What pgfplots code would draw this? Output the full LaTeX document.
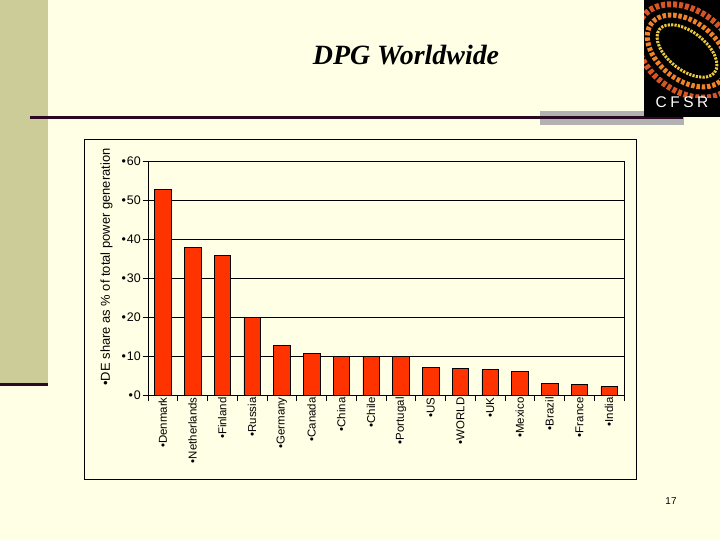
\documentclass[border=0pt]{standalone}
\usepackage{fontspec}
\setmainfont{Liberation Sans}
\newfontfamily\titlefont{Liberation Serif}
\usepackage{pgfplots}
\pgfplotsset{compat=1.18}

\definecolor{slidebg}{RGB}{255,255,229}
\definecolor{strip}{RGB}{204,204,153}
\definecolor{rulecol}{RGB}{45,8,35}
\definecolor{barcol}{RGB}{255,51,0}
\definecolor{grayband}{RGB}{178,178,178}
\definecolor{logoyel}{RGB}{235,200,60}
\definecolor{logoora}{RGB}{240,130,40}
\definecolor{logored}{RGB}{215,85,35}

\begin{document}
\begin{tikzpicture}
% slide background
\fill[slidebg] (0,0) rectangle (720bp,540bp);
\fill[strip] (0,157bp) rectangle (48bp,540bp);
\fill[rulecol] (0,154bp) rectangle (48bp,157bp);
\fill[grayband] (540bp,415bp) rectangle (684bp,429bp);
\draw[rulecol, line width=2.7bp] (30bp,422.5bp) -- (683bp,422.5bp);

% logo
\fill[black] (644bp,423bp) rectangle (720bp,540bp);
\begin{scope}
  \clip (644bp,442bp) rectangle (720bp,540bp);
  \draw[logored, line width=6bp, dash pattern=on 4bp off 2bp, rotate around={-38:(687bp,489bp)}]
    (687bp,489bp) ellipse (56bp and 40bp);
  \draw[logoora, line width=5bp, dash pattern=on 3.5bp off 1.8bp, rotate around={-38:(687bp,489bp)}]
    (687bp,489bp) ellipse (45bp and 29bp);
  \draw[logoyel, line width=3bp, dash pattern=on 2.2bp off 1.2bp, rotate around={-38:(687bp,489bp)}]
    (687bp,489bp) ellipse (35bp and 19bp);
\end{scope}
\node[white, font=\fontsize{15.5}{16}\selectfont, anchor=base, inner sep=0pt] at (682bp,432bp) {C\kern3.5bp F\kern3.5bp S\kern3.5bp R};

% title and page number
\node[font=\titlefont\bfseries\itshape\fontsize{28}{32}\selectfont, anchor=base] at (406bp,475bp) {DPG Worldwide};
\node[font=\fontsize{10}{12}\selectfont] at (671bp,38.5bp) {17};

% chart frame
\draw[black, line width=0.8bp] (84.3bp,61bp) rectangle (636.7bp,400.7bp);

\begin{axis}[
  at={(148bp,144.3bp)}, anchor=south west,
  scale only axis, width=476bp, height=234bp,
  xmin=-0.5, xmax=15.5, ymin=0, ymax=60,
  enlargelimits=false,
  axis line style={black, line width=0.8bp},
  ymajorgrids, grid style={black, line width=0.8bp},
  tick pos=left, tick align=outside,
  major tick length=5.5bp,
  tick style={black, line width=0.6bp},
  ytick={0,10,...,60},
  yticklabels={•\kern1bp 0,•\kern1bp 10,•\kern1bp 20,•\kern1bp 30,•\kern1bp 40,•\kern1bp 50,•\kern1bp 60},
  yticklabel style={font=\fontsize{12.5}{14}\selectfont, inner sep=1.5bp},
  xtick={-0.5,0.5,...,15.5},
  xticklabels={},
  extra x ticks={0,...,15},
  extra x tick labels={•Denmark,•Netherlands,•Finland,•Russia,•Germany,•Canada,•China,•Chile,•Portugal,•US,•WORLD,•UK,•Mexico,•Brazil,•France,•India},
  extra x tick style={major tick length=0pt, xticklabel style={font=\fontsize{11.5}{13}\selectfont, rotate=90, anchor=east, inner sep=1.5bp}},
  ylabel={•DE share as \% of total power generation},
  ylabel style={at={(axis description cs:-0.087,0.55)}, anchor=center, font=\fontsize{13}{15}\selectfont},
]
\addplot[ybar, bar width=16.5bp, fill=barcol, draw=black, line width=0.6bp] coordinates {
  (0,53) (1,38) (2,36) (3,20) (4,12.8) (5,10.8) (6,10) (7,10)
  (8,10) (9,7.2) (10,6.9) (11,6.7) (12,6.2) (13,3.1) (14,2.8) (15,2.3)
};
\end{axis}
\pgfresetboundingbox
\path (0,0) rectangle (720bp,540bp);
\end{tikzpicture}
\end{document}
